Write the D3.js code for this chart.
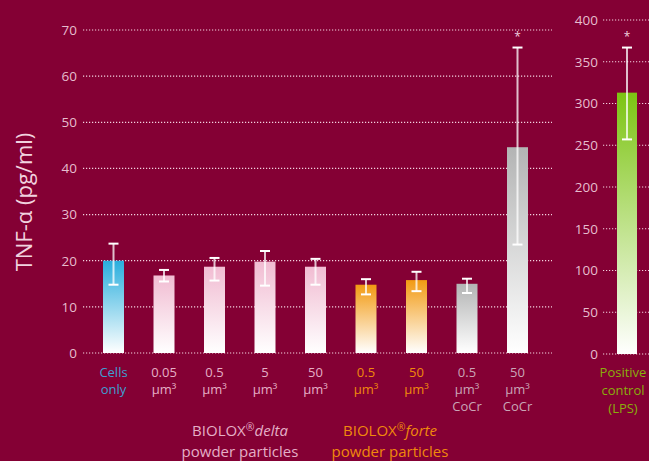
<!DOCTYPE html>
<html>
<head>
<meta charset="utf-8">
<script src="https://cdn.jsdelivr.net/npm/d3@7"></script>
<style>
  body { margin: 0; background: #840034; }
  svg { display: block; font-family: "Open Sans", sans-serif; }
</style>
</head>
<body>
<svg id="chart" width="649" height="461"></svg>
<script>
// data
const categories = ["cells", "d005", "d05", "d5", "d50", "f05", "f50", "c05", "c50"];
const labels = [["Cells", "only"], ["0.05", "µm³"], ["0.5", "µm³"], ["5", "µm³"], ["50", "µm³"],
                ["0.5", "µm³"], ["50", "µm³"], ["0.5", "µm³", "CoCr"], ["50", "µm³", "CoCr"]];
const groups = ["cells", "delta", "delta", "delta", "delta", "forte", "forte", "cocr", "cocr"];
const values = [20, 16.8, 18.7, 19.8, 18.7, 14.8, 15.8, 15.0, 44.6];
const errLow = [14.8, 15.5, 15.7, 14.6, 14.8, 12.7, 13.4, 13.0, 23.5];
const errHigh = [23.7, 18.0, 20.6, 22.1, 20.4, 16.0, 17.6, 16.1, 66.2];
const starred = [false, false, false, false, false, false, false, false, true];
const leftTicks = [0, 10, 20, 30, 40, 50, 60, 70];

const lpsValue = 313;
const lpsLow = 257;
const lpsHigh = 367;
const rightTicks = [0, 50, 100, 150, 200, 250, 300, 350, 400];

const svg = d3.select("#chart");
const bg = "#840034";
svg.append("rect").attr("width", 649).attr("height", 461).attr("fill", bg);

let colorsForGroup = {
  "cells": "#29aedd",
  "delta": "#f1bcd2",
  "forte": "#f29a12",
  "cocr": "#b3b4b4",
  "lps": "#7cc412"
};
let labelColor = {
  "cells": "#3e9fd2",
  "delta": "#e4afc6",
  "forte": "#f0890c",
  "cocr": "#caa5b6",
  "lps": "#8aae0c"
};

// gradients: colour at top, white at the bottom
const defs = svg.append("defs");
for (let g in colorsForGroup) {
  let grad = defs.append("linearGradient").attr("id", "grad_" + g)
    .attr("x1", 0).attr("y1", 0).attr("x2", 0).attr("y2", 1);
  grad.append("stop").attr("offset", "0%").attr("stop-color", colorsForGroup[g]);
  grad.append("stop").attr("offset", "100%").attr("stop-color", "#ffffff");
}

//----------------left panel
const y = d3.scaleLinear().domain([0, 70]).range([353, 30]);
const x = d3.scalePoint().domain(categories).range([113.5, 517.5]);
const barW = 21;

const gridL = svg.append("g");
gridL.selectAll("line").data(leftTicks).join("line")
  .attr("x1", 83).attr("x2", 552)
  .attr("y1", d => y(d)).attr("y2", d => y(d))
  .attr("stroke", "#f3d3e0").attr("stroke-width", 1.2)
  .attr("stroke-dasharray", "1.2,1.8");

const axisL = svg.append("g").attr("transform", "translate(77,0)")
  .call(d3.axisLeft(y).tickValues(leftTicks).tickSize(0).tickPadding(0));
axisL.select(".domain").remove();
axisL.selectAll("text").attr("fill", "#e6bdce").attr("font-size", 13.5)
  .attr("font-family", "Open Sans, sans-serif");

svg.append("text")
  .attr("transform", "translate(32,202) rotate(-90)")
  .attr("text-anchor", "middle")
  .attr("fill", "#f1d2df").attr("font-size", 22)
  .text("TNF-α (pg/ml)");

// bars
svg.append("g").selectAll("rect").data(categories).join("rect")
  .attr("x", d => x(d) - barW / 2)
  .attr("width", barW)
  .attr("y", (d, i) => y(values[i]))
  .attr("height", (d, i) => y(0) - y(values[i]))
  .attr("fill", (d, i) => "url(#grad_" + groups[i] + ")");

function errorBar(g, cx, yLo, yHi) {
  g.append("line").attr("x1", cx).attr("x2", cx).attr("y1", yLo).attr("y2", yHi)
    .attr("stroke", "#ffffff").attr("stroke-opacity", 0.75).attr("stroke-width", 2);
  for (let yy of [yLo, yHi]) {
    g.append("line").attr("x1", cx - 5).attr("x2", cx + 5).attr("y1", yy).attr("y2", yy)
      .attr("stroke", "#ffffff").attr("stroke-width", 2);
  }
}

const errG = svg.append("g");
categories.forEach((c, i) => {
  errorBar(errG, x(c), y(errLow[i]), y(errHigh[i]));
  if (starred[i]) {
    errG.append("text").attr("x", x(c)).attr("y", y(errHigh[i]) - 7)
      .attr("text-anchor", "middle").attr("fill", "#f1d2df").attr("font-size", 12)
      .text("*");
  }
});

// category labels
categories.forEach((c, i) => {
  let t = svg.append("text").attr("text-anchor", "middle")
    .attr("fill", labelColor[groups[i]]).attr("font-size", 13);
  labels[i].forEach((line, k) => {
    t.append("tspan").attr("x", x(c)).attr("y", 377 + k * 17).text(line);
  });
});

// group labels (two separate lines)
function groupLabel(cx, name, color) {
  let t1 = svg.append("text").attr("text-anchor", "middle").attr("fill", color).attr("font-size", 15)
    .attr("x", cx).attr("y", 436);
  t1.append("tspan").text("BIOLOX");
  t1.append("tspan").attr("font-size", 10.5).attr("dy", -5).text("®");
  t1.append("tspan").attr("font-style", "italic").attr("dy", 5).text(name);
  svg.append("text").attr("text-anchor", "middle").attr("fill", color).attr("font-size", 15)
    .attr("x", cx).attr("y", 457).text("powder particles");
}
groupLabel(240, "delta", "#e4afc6");
groupLabel(390, "forte", "#f0890c");

//----------------right panel
const y2 = d3.scaleLinear().domain([0, 400]).range([354, 20]);
const xr = 627;

svg.append("g").selectAll("line").data(rightTicks).join("line")
  .attr("x1", 603).attr("x2", 649)
  .attr("y1", d => y2(d)).attr("y2", d => y2(d))
  .attr("stroke", "#f3d3e0").attr("stroke-width", 1.2)
  .attr("stroke-dasharray", "1.2,1.8");

const axisR = svg.append("g").attr("transform", "translate(598,0)")
  .call(d3.axisLeft(y2).tickValues(rightTicks).tickSize(0).tickPadding(0));
axisR.select(".domain").remove();
axisR.selectAll("text").attr("fill", "#e6bdce").attr("font-size", 13.5)
  .attr("font-family", "Open Sans, sans-serif");

svg.append("rect")
  .attr("x", xr - 10).attr("width", 20)
  .attr("y", y2(lpsValue)).attr("height", y2(0) - y2(lpsValue))
  .attr("fill", "url(#grad_lps)");

const errR = svg.append("g");
errorBar(errR, xr, y2(lpsLow), y2(lpsHigh));
errR.append("text").attr("x", xr).attr("y", y2(lpsHigh) - 7)
  .attr("text-anchor", "middle").attr("fill", "#f1d2df").attr("font-size", 12).text("*");

let lt = svg.append("text").attr("text-anchor", "middle").attr("fill", labelColor.lps).attr("font-size", 13);
["Positive", "control", "(LPS)"].forEach((line, k) => {
  lt.append("tspan").attr("x", 623).attr("y", 377 + k * 18).text(line);
});
</script>
</body>
</html>
